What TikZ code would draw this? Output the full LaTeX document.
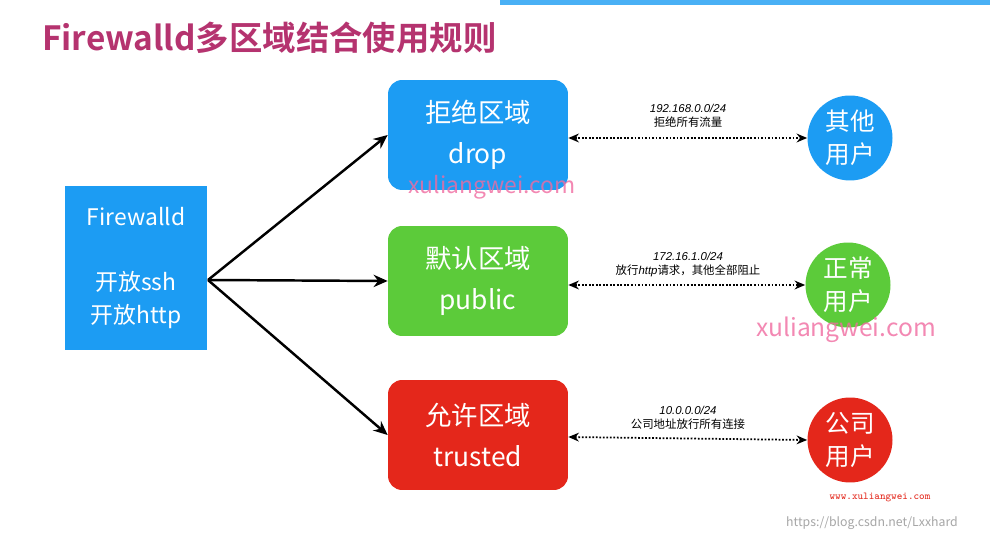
\documentclass[tikz,border=0pt]{standalone}
\usepackage{fontspec}
\setmainfont{Noto Sans CJK SC}
\newfontfamily\cjkb{Noto Sans CJK SC Bold}
\newfontfamily\lat{Liberation Sans}
\usetikzlibrary{arrows.meta}
\definecolor{tblue}{HTML}{1C9CF3}
\definecolor{tgreen}{HTML}{5CCB3A}
\definecolor{tred}{HTML}{E4271B}
\definecolor{ttitle}{HTML}{B5336F}
\definecolor{wm}{HTML}{F06BA0}
\begin{document}
\begin{tikzpicture}[x=0.02cm,y=-0.02cm,
 zone/.style={rounded corners=8pt,minimum width=3.6cm,minimum height=2.2cm,text=white,font=\fontsize{15}{23}\selectfont,align=center},
 user/.style={circle,minimum size=1.7cm,text=white,font=\fontsize{14}{19}\selectfont,align=center,inner sep=0pt},
 main/.style={-{Stealth[length=8pt,width=7pt]},line width=1.4pt},
 link/.style={{Stealth[length=6pt,width=5pt]}-{Stealth[length=6pt,width=5pt]},densely dotted,line width=1pt},
 lbl/.style={font=\fontsize{6.5}{8}\selectfont,align=center}]
\useasboundingbox (0,0) rectangle (990,543);
\fill[white] (0,0) rectangle (990,543);
\fill[tblue!80] (500,0) rectangle (990,5);
\node[anchor=west,text=ttitle,font=\cjkb\fontsize{19}{22}\selectfont] (title) at (36,38) {Firewalld多区域结合使用规则};
\node[fill=tblue,minimum width=2.86cm,minimum height=3.3cm,text=white,align=center,font=\fontsize{13}{19}\selectfont] (fw) at (136,268) {Firewalld\\[18pt]开放ssh\\开放http};
\node[zone,fill=tblue] (drop) at (478,135) {拒绝区域\\drop};
\node[zone,fill=tgreen] (pub) at (478,281) {默认区域\\public};
\node[zone,fill=tred] (tru) at (478,435) {允许区域\\trusted};
\node[user,fill=tblue] (u1) at (850,138) {其他\\用户};
\node[user,fill=tgreen] (u2) at (848,285) {正常\\用户};
\node[user,fill=tred] (u3) at (850,440) {公司\\用户};
\coordinate (fo) at (208,280);
\draw[main] (fo) -- (drop.west);
\draw[main] (fo) -- (pub.west);
\draw[main] (fo) -- (tru.west);
\draw[link] (drop.east |- 0,138) -- (u1.west);
\draw[link] (pub.east |- 0,285) -- (u2.west);
\draw[link] (tru.east |- 0,437) -- (u3.west);
\node[lbl] (l1) at (688,116) {{\lat\itshape 192.168.0.0/24}\\拒绝所有流量};
\node[lbl] (l2) at (688,265) {{\lat\itshape 172.16.1.0/24}\\放行{\lat\itshape http}请求，其他全部阻止};
\node[lbl] (l3) at (688,418) {{\lat\itshape 10.0.0.0/24}\\公司地址放行所有连接};
\node[text=wm,opacity=0.8,font=\fontsize{13}{15}\selectfont] (w1) at (492,187) {xuliangwei.com};
\node[text=wm,opacity=0.8,font=\fontsize{14}{16}\selectfont] (w2) at (846,330) {xuliangwei.com};
\node[text=tred,font=\ttfamily\fontsize{6}{7}\selectfont] (w3) at (880,497) {www.xuliangwei.com};
\node[text=gray!70,font=\fontsize{7}{8}\selectfont] (w4) at (872,523) {https://blog.csdn.net/Lxxhard};
\end{tikzpicture}
\end{document}
